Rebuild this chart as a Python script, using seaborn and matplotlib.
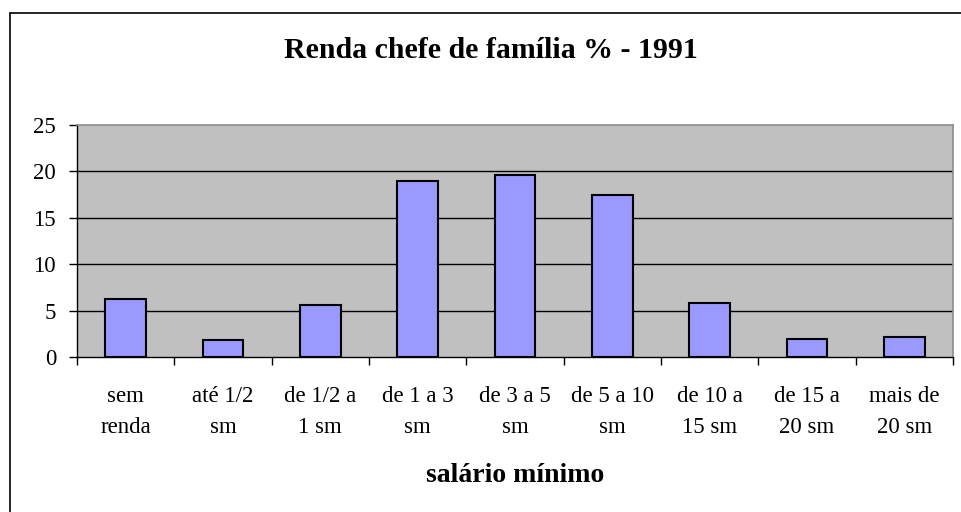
import numpy as np
import pandas as pd
import seaborn as sns
import matplotlib.pyplot as plt
from matplotlib.lines import Line2D

# dados
categorias = ["sem\nrenda", "até 1/2\nsm", "de 1/2 a\n1 sm", "de 1 a 3\nsm", "de 3 a 5\nsm",
              "de 5 a 10\nsm", "de 10 a\n15 sm", "de 15 a\n20 sm", "mais de\n20 sm"]
percentuais = [6.24, 1.78, 5.6, 18.97, 19.58, 17.43, 5.85, 1.97, 2.15]
yticks = [0, 5, 10, 15, 20, 25]

sns.set_style("white")
plt.rcParams['font.family'] = ['Liberation Serif', 'DejaVu Serif']
plt.rcParams['text.color'] = 'black'
plt.rcParams['xtick.color'] = 'black'
plt.rcParams['ytick.color'] = 'black'

df = pd.DataFrame({'faixa': categorias, 'pct': percentuais})

fig = plt.figure(figsize=(9.62, 5.12), dpi=100)
ax = fig.add_axes([77 / 962, 1 - 357 / 512, (953 - 77) / 962, (357 - 125) / 512])
ax.set_facecolor('#C0C0C0')

sns.barplot(data=df, x='faixa', y='pct', color='#9999FF', edgecolor='black',
            linewidth=1.5, width=0.42, saturation=1, ax=ax, zorder=3)

ax.set_ylim(0, 25)
ax.set_xlim(-0.5, len(categorias) - 0.5)
ax.set_yticks(yticks)
ax.set_yticklabels([str(t) for t in yticks], fontsize=16.5)
for t in yticks[1:-1]:
    ax.axhline(t, color='black', linewidth=1, zorder=1)

# marcas entre categorias, rótulos no centro
ax.set_xticks(np.arange(len(categorias)))
ax.set_xticklabels(categorias, fontsize=16.5, linespacing=1.6)
ax.set_xticks(np.arange(len(categorias) + 1) - 0.5, minor=True)
ax.tick_params(axis='x', which='major', length=0, pad=21)
ax.tick_params(axis='x', which='minor', length=6, width=1, direction='out')
ax.tick_params(axis='y', length=6, width=1, direction='out', pad=9)
ax.xaxis.set_ticks_position('bottom')
ax.yaxis.set_ticks_position('left')

ax.set_xlabel('')
ax.set_ylabel('')
for side in ['left', 'bottom']:
    ax.spines[side].set_color('black')
    ax.spines[side].set_linewidth(1)
for side in ['top', 'right']:
    ax.spines[side].set_color('#8C8C8C')
    ax.spines[side].set_linewidth(1.2)

fig.text(491 / 962, 1 - 50 / 512, 'Renda chefe de família % - 1991', ha='center', va='center',
         fontsize=21.5, fontweight='bold')
fig.text(515 / 962, 1 - 475 / 512, 'salário mínimo', ha='center', va='center',
         fontsize=20, fontweight='bold')

# moldura do gráfico (recortada à direita e embaixo)
fig.add_artist(Line2D([10 / 962, 10 / 962], [0, 1 - 13 / 512], color='black', linewidth=1.2,
                      transform=fig.transFigure))
fig.add_artist(Line2D([10 / 962, 1], [1 - 13 / 512, 1 - 13 / 512], color='black', linewidth=1.2,
                      transform=fig.transFigure))

fig.savefig('out.png', dpi=100)
